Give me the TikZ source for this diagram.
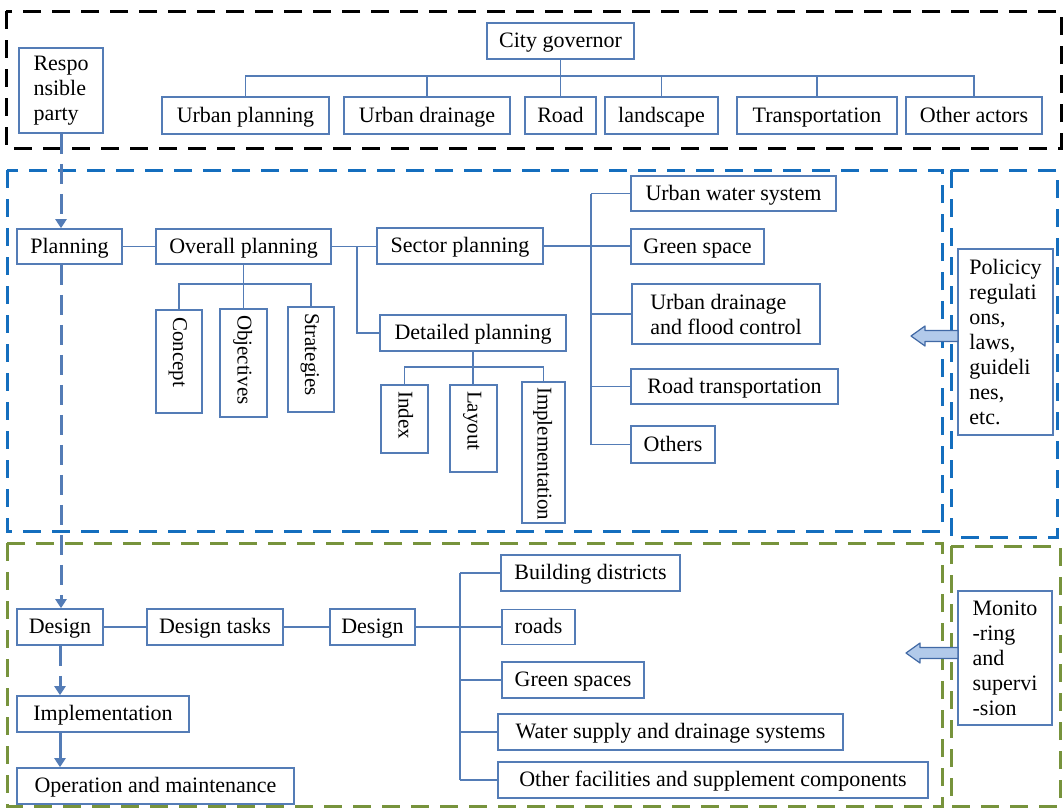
\documentclass[tikz,border=0pt]{standalone}
\usepackage{fontspec}
\setmainfont{Liberation Serif}
\usetikzlibrary{arrows.meta}
\definecolor{boxc}{RGB}{84,124,182}
\definecolor{contblue}{RGB}{20,110,190}
\definecolor{contgreen}{RGB}{119,147,60}
\definecolor{arrfill}{RGB}{178,202,234}
\definecolor{arrdraw}{RGB}{65,105,165}
\newcommand{\vtxt}[2]{\makebox[#1][l]{#2}}
\begin{document}
\begin{tikzpicture}[x=1pt,y=-1pt,
  every node/.style={font=\fontsize{22}{25}\selectfont},
  basebox/.style={draw=boxc, line width=1.6pt, fill=white, inner sep=0pt},
  box/.style={basebox, align=center, text height=16.5pt, text depth=3.5pt},
  vbox/.style={basebox, rotate=-90, font=\fontsize{21}{24}\selectfont, text height=16pt, text depth=4pt},
  mbox/.style={basebox, align=left},
  conn/.style={draw=boxc, line width=1.5pt},
  flow/.style={draw=boxc, line width=3pt, -{Triangle[length=9pt,width=11pt]}},
  dflow/.style={flow, dash pattern=on 20pt off 10pt},
  cont/.style={line width=3pt, dash pattern=on 18pt off 11pt},
  blockarr/.style={fill=arrfill, draw=arrdraw, line width=1.2pt, line join=round}]
\useasboundingbox (0,0) rectangle (1064,809);

% containers
\draw[cont, black] (6,11) rectangle (1061,148);
\draw[cont, contblue] (7,170) rectangle (942,531);
\draw[cont, contblue] (951,170) rectangle (1057,537);
\draw[cont, contgreen] (7,543) rectangle (942,806);
\draw[cont, contgreen] (951,546) rectangle (1060,806);

% top section
\node[box, minimum width=147pt, minimum height=36pt] (gov) at (560.5,41) {City governor};
\node[box, minimum width=167pt, minimum height=37pt] (up) at (245.5,115.5) {Urban planning};
\node[box, minimum width=166pt, minimum height=37pt] (ud) at (427,115.5) {Urban drainage};
\node[box, minimum width=71pt, minimum height=37pt] (road) at (560.5,115.5) {Road};
\node[box, minimum width=113pt, minimum height=37pt] (land) at (661.5,115.5) {landscape};
\node[box, minimum width=160pt, minimum height=37pt] (trans) at (817,115.5) {Transportation};
\node[box, minimum width=136pt, minimum height=37pt] (oth) at (974,115.5) {Other actors};
\node[mbox, minimum width=84pt, minimum height=85pt] (resp) at (61,90.5) {Respo\\nsible\\party};

\coordinate (bus) at (560.5,76);
\draw[conn] (gov.south) -- (road.north);
\draw[conn] (up.north) |- (bus) -| (oth.north);
\draw[conn] (ud.north) -- (ud.north |- bus);
\draw[conn] (land.north) -- (land.north |- bus);
\draw[conn] (trans.north) -- (trans.north |- bus);

% planning section
\node[box, minimum width=105pt, minimum height=35pt] (plan) at (69.5,246.5) {Planning};
\node[box, minimum width=175pt, minimum height=35pt] (overall) at (243.5,246.5) {Overall planning};
\node[box, minimum width=166pt, minimum height=36pt] (sector) at (460,246) {Sector planning};
\node[box, minimum width=186pt, minimum height=36pt] (detailed) at (473,333) {Detailed planning};
\node[vbox, minimum width=103pt, minimum height=46pt] (concept) at (179,361.5) {\vtxt{89pt}{Concept}};
\node[vbox, minimum width=108pt, minimum height=47pt] (objectives) at (243.5,363) {\vtxt{96pt}{Objectives}};
\node[vbox, minimum width=105pt, minimum height=46pt] (strategies) at (311,359.5) {\vtxt{93pt}{Strategies}};
\node[vbox, minimum width=68pt, minimum height=47pt] (index) at (404.5,419) {\vtxt{56pt}{Index}};
\node[vbox, minimum width=87pt, minimum height=47pt] (layout) at (473.5,428.5) {\vtxt{75pt}{Layout}};
\node[vbox, minimum width=141pt, minimum height=43pt] (impl1) at (543.5,452.5) {\vtxt{131pt}{Implementation}};
\node[box, minimum width=205pt, minimum height=35pt] (uws) at (733.5,193.5) {Urban water system};
\node[box, minimum width=133pt, minimum height=35pt] (gs) at (697.5,246.5) {Green space};
\node[mbox, minimum width=188pt, minimum height=60pt] (udfc) at (726,314) {Urban drainage\\and flood control};
\node[box, minimum width=207pt, minimum height=35pt] (rt) at (734.5,386.5) {Road transportation};
\node[box, minimum width=84pt, minimum height=37pt] (others) at (673,444.5) {Others};
\node[mbox, minimum width=95pt, minimum height=186pt] (policy) at (1005.5,342) {Policicy\\regulati\\ons,\\laws,\\guideli\\nes,\\etc.};

\draw[conn] (plan.east) -- (overall.west);
\draw[conn] (overall.east) -- (overall.east -| sector.west);
\coordinate (obr) at (357,246.5);
\draw[conn] (obr) |- (detailed.west);
\coordinate (obus) at (243.5,284);
\draw[conn] (overall.south) -- (objectives.west);
\draw[conn] (concept.west) |- (obus) -| (strategies.west);
\coordinate (dbus) at (473,367);
\draw[conn] (detailed.south) -- (detailed.south |- layout.west);
\draw[conn] (index.west) |- (dbus) -| (impl1.west);
\coordinate (strunk) at (591,246.5);
\draw[conn] (sector.east) -- (sector.east -| gs.west);
\draw[conn] (uws.west -| strunk) -- (others.west -| strunk);
\foreach \n in {uws,udfc,rt,others} \draw[conn] (\n.west -| strunk) -- (\n.west);

% design section
\node[box, minimum width=86pt, minimum height=36pt] (des) at (60,627) {Design};
\node[box, minimum width=136pt, minimum height=36pt] (dtasks) at (215,627) {Design tasks};
\node[box, minimum width=85pt, minimum height=36pt] (des2) at (372.5,627) {Design};
\node[box, minimum width=172pt, minimum height=36pt] (impl2) at (103,714) {Implementation};
\node[box, minimum width=277pt, minimum height=36pt] (om) at (155.5,786) {Operation and maintenance};
\node[box, minimum width=179pt, minimum height=36pt] (bd) at (590.5,573) {Building districts};
\node[box, minimum width=73pt, minimum height=35pt] (roads) at (538.5,627) {roads};
\node[box, minimum width=142pt, minimum height=36pt] (gsp) at (573,680) {Green spaces};
\node[box, minimum width=345pt, minimum height=36pt] (wsd) at (670.5,732) {Water supply and drainage systems};
\node[box, minimum width=430pt, minimum height=36pt] (ofs) at (713,780) {Other facilities and supplement components};
\node[mbox, minimum width=94pt, minimum height=134pt] (mon) at (1005,658) {Monito\\-ring\\and\\supervi\\-sion};

\draw[conn] (des.east) -- (dtasks.west);
\draw[conn] (dtasks.east) -- (des2.west);
\coordinate (dtrunk) at (460,627);
\draw[conn] (des2.east) -- (roads.west);
\draw[conn] (bd.west -| dtrunk) -- (ofs.west -| dtrunk);
\foreach \n in {bd,gsp,wsd,ofs} \draw[conn] (\n.west -| dtrunk) -- (\n.west);

% flow arrows
\draw[dflow] (resp.south) -- (resp.south |- plan.north);
\draw[dflow] (resp.south |- plan.south) -- (resp.south |- des.north);
\draw[dflow] (des.south) -- (des.south |- impl2.north);
\draw[flow] (des.south |- impl2.south) -- (des.south |- om.north);

% block arrows
\coordinate (pa) at (958,336);
\draw[blockarr] (pa) ++(0,-5.5) -- ++(-33,0) -- ++(0,-4.5) -- ++(-14,10) -- ++(14,10) -- ++(0,-4.5) -- ++(33,0) -- cycle;
\coordinate (ma) at (958,653);
\draw[blockarr] (ma) ++(0,-5.5) -- ++(-38,0) -- ++(0,-4.5) -- ++(-14,10) -- ++(14,10) -- ++(0,-4.5) -- ++(38,0) -- cycle;
\end{tikzpicture}
\end{document}
